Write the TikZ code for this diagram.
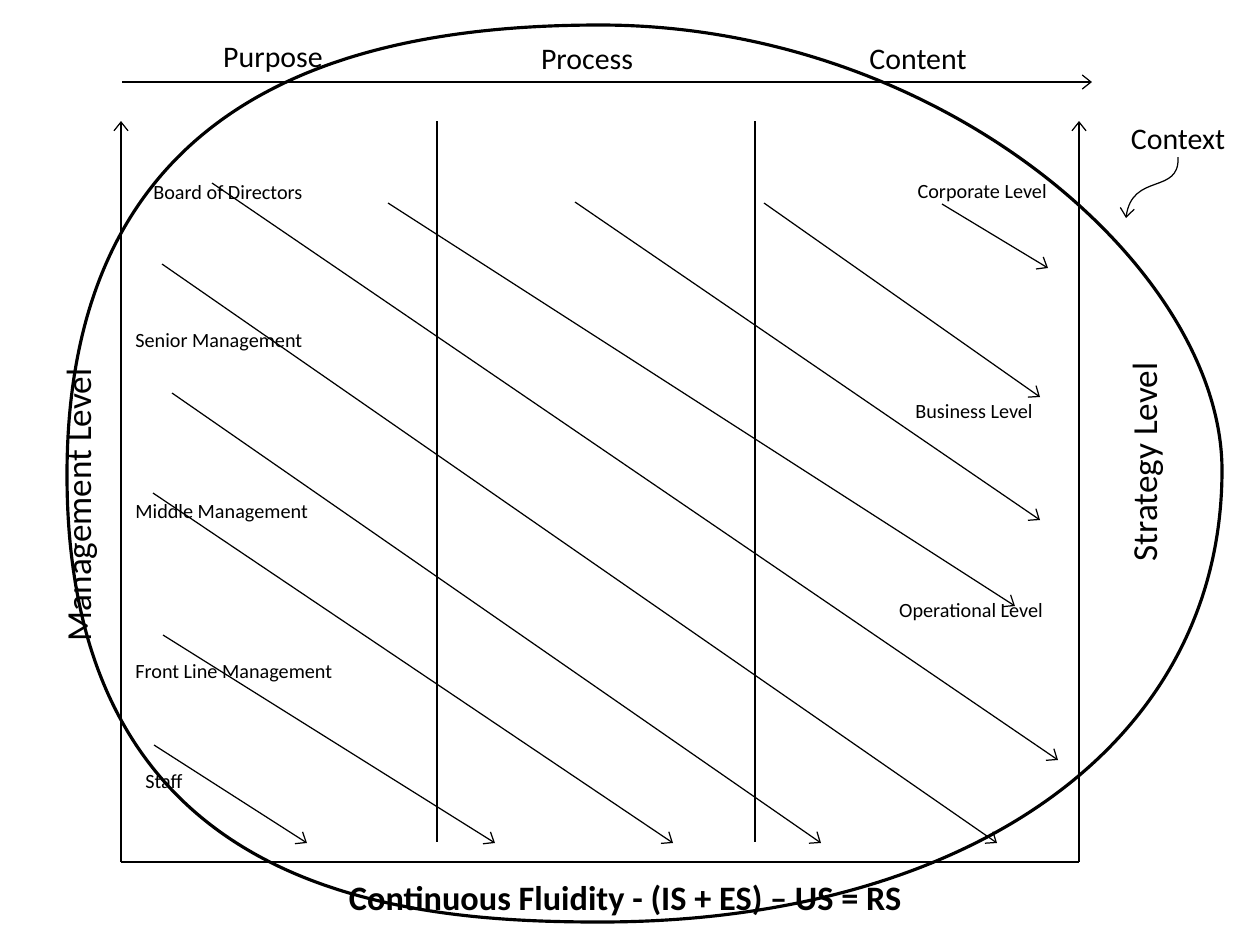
\documentclass[tikz,border=0pt]{standalone}
\usepackage{fontspec}
\setmainfont{Carlito}
\usetikzlibrary{arrows.meta}
\begin{document}
\begin{tikzpicture}[x=0.02cm,y=-0.02cm,
  thinline/.style={line width=0.7pt},
  arr/.style={line width=0.7pt,-{Straight Barb[length=5pt,width=8pt]}},
  lbl/.style={font=\fontsize{11.5}{13}\selectfont, inner sep=0pt},
  head/.style={font=\fontsize{17}{20}\selectfont, inner sep=0pt},
  side/.style={font=\fontsize{20}{24}\selectfont, inner sep=0pt, rotate=90},
  ring/.style={line width=1.8pt}]
\useasboundingbox (0,0) rectangle (1249,931);

% context ring
\draw[ring] (600,25) .. controls (350,25) and (67,95) .. (67,475)
  .. controls (67,895) and (400,922) .. (600,922)
  .. controls (960,922) and (1222,750) .. (1222,470)
  .. controls (1222,270) and (943,25) .. (600,25);

% frame
\coordinate (ta0) at (122,82);
\coordinate (ta1) at (1092,82);
\coordinate (bl) at (121,862);
\coordinate (br) at (1079,862);
\coordinate (lt) at (121,121);
\coordinate (rt) at (1079,121);
\coordinate (v1a) at (437,121);
\coordinate (v1b) at (437,842);
\coordinate (v2a) at (755,121);
\coordinate (v2b) at (755,842);
\draw[arr] (ta0) -- (ta1);
\draw[thinline] (bl) -- (br);
\draw[arr] (bl) -- (lt);
\draw[arr] (br) -- (rt);
\draw[thinline] (v1a) -- (v1b);
\draw[thinline] (v2a) -- (v2b);

% diagonal arrows
\coordinate (s1) at (154,745);  \coordinate (e1) at (307,843);
\coordinate (s2) at (163,635);  \coordinate (e2) at (495,843);
\coordinate (s3) at (153,493);  \coordinate (e3) at (673,843);
\coordinate (s4) at (172,393);  \coordinate (e4) at (821,843);
\coordinate (s5) at (162,264);  \coordinate (e5) at (997,843);
\coordinate (s6) at (212,183);  \coordinate (e6) at (1058,760);
\coordinate (s7) at (388,203);  \coordinate (e7) at (1015,606);
\coordinate (s8) at (575,202);  \coordinate (e8) at (1040,520);
\coordinate (s9) at (764,203);  \coordinate (e9) at (1040,397);
\coordinate (s10) at (942,204); \coordinate (e10) at (1048,268);
\foreach \i in {1,...,10} {\draw[arr] (s\i) -- (e\i);}

% labels
\node[lbl, anchor=west] (bod) at (153,193) {Board of Directors};
\node[lbl, anchor=west] (sm) at (135,342) {Senior Management};
\node[lbl, anchor=west] (mm) at (135,513) {Middle Management};
\node[lbl, anchor=west] (flm) at (135,673) {Front Line Management};
\node[lbl, anchor=west] (st) at (145,782) {Staff};
\node[lbl, anchor=east] (cl) at (1047,193) {Corporate Level};
\node[lbl] (bl2) at (974,412) {Business Level};
\node[lbl] (ol) at (971,612) {Operational Level};

\node[head] (pu) at (273,60) {Purpose};
\node[head] (pr) at (587,60) {Process};
\node[head] (co) at (918,60) {Content};
\node[head] (ctx) at (1178,140) {Context};

\node[side] (ml) at (82,505) {Management Level};
\node[side] (sl) at (1148,462) {Strategy Level};

\node[font=\fontsize{19.5}{22}\selectfont\bfseries, inner sep=0pt] (eq) at (625,900) {Continuous Fluidity - (IS + ES) -- US = RS};

\coordinate (ctxend) at (1126,218);
\draw[arr] ([yshift=-4]ctx.south) .. controls (1180,195) and (1132,172) .. (ctxend);
\end{tikzpicture}
\end{document}
